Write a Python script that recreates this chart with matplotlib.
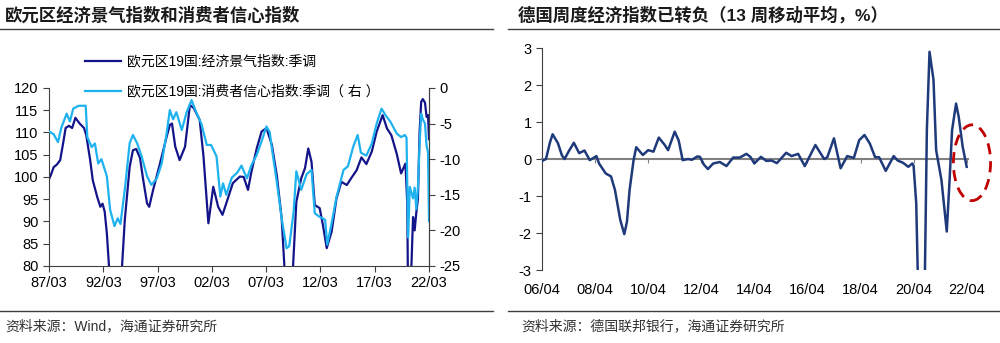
import numpy as np
import matplotlib.pyplot as plt
from matplotlib.lines import Line2D
from matplotlib.patches import Ellipse

plt.rcParams['font.family'] = ['Liberation Sans', 'Noto Sans CJK SC']
plt.rcParams['axes.unicode_minus'] = False

# ---- left panel: euro area sentiment (left axis) and consumer confidence (right axis)
esi_t = [1987.17, 1987.35, 1987.6, 1987.9, 1988.2, 1988.5, 1988.7, 1989.0, 1989.3, 1989.6,
         1990.0, 1990.4, 1990.6, 1990.95, 1991.2, 1991.6, 1991.9, 1992.1, 1992.3, 1992.5,
         1992.7, 1993.0, 1993.4, 1993.85, 1994.15, 1994.6, 1994.9, 1995.2, 1995.55, 1995.85,
         1996.2, 1996.4, 1996.75, 1997.4, 1998.0, 1998.3, 1998.5, 1998.8, 1999.2, 1999.7,
         2000.15, 2000.5, 2001.05, 2001.4, 2001.85, 2002.3, 2002.75, 2003.15, 2003.5, 2004.1,
         2004.75, 2005.1, 2005.5, 2005.8, 2006.3, 2006.75, 2007.2, 2007.7, 2008.15, 2008.6,
         2008.85, 2009.1, 2009.4, 2009.65, 2009.95, 2010.4, 2010.75, 2011.05, 2011.35, 2011.65,
         2012.1, 2012.4, 2012.75, 2013.2, 2013.65, 2014.1, 2014.6, 2015.05, 2015.5, 2015.95,
         2016.4, 2016.9, 2017.35, 2017.9, 2018.3, 2018.7, 2019.2, 2019.6, 2020.0, 2020.17,
         2020.25, 2020.4, 2020.55, 2020.7, 2020.85, 2021.0, 2021.15, 2021.3, 2021.45, 2021.6,
         2021.8, 2021.95, 2022.08, 2022.17]
esi_v = [99.5, 100.5, 102.2, 102.8, 103.8, 108, 111, 111.5, 111, 113.3,
         112, 111, 109.4, 104, 99.3, 95.6, 93.3, 94, 92.2, 87.3,
         79.8, 76, 74, 78, 90.3, 102.3, 106, 106.3, 104.3, 99.3,
         94.1, 93.3, 97, 103.1, 109, 111.7, 112, 106.8, 103.8, 106.8,
         116.2, 115.5, 112.8, 104.6, 89.6, 97.8, 93.3, 91.5, 94.1, 98.6,
         100.1, 100, 97.1, 101, 106.4, 110.2, 111, 107.2, 100.4, 90.7,
         80, 72, 73, 80, 94.4, 99.7, 102, 106.4, 103.4, 93.7,
         93, 89.2, 84, 87.7, 95.2, 98.9, 98.2, 99.9, 101.5, 104.4,
         102.9, 105.7, 110.2, 113.9, 110.9, 109.4, 105.2, 100.8, 103, 94,
         70, 67, 80, 91, 88, 92, 95, 110, 116.9, 117.5,
         116.7, 113.5, 113.9, 108.5]

cc_t = [1987.17, 1987.6, 1988.0, 1988.3, 1988.8, 1989.1, 1989.4, 1989.9, 1990.3, 1990.55,
        1990.7, 1991.1, 1991.4, 1991.7, 1992.0, 1992.5, 1992.8, 1993.2, 1993.5, 1993.75,
        1994.15, 1994.6, 1994.9, 1995.3, 1995.7, 1996.2, 1996.6, 1997.1, 1997.55, 1998.0,
        1998.3, 1998.6, 1998.9, 1999.4, 1999.85, 2000.3, 2000.7, 2001.2, 2001.7, 2002.1,
        2002.6, 2002.95, 2003.2, 2003.5, 2004.0, 2004.5, 2004.9, 2005.4, 2005.8, 2006.3,
        2006.75, 2007.2, 2007.5, 2007.7, 2008.15, 2008.6, 2009.05, 2009.3, 2009.7, 2009.95,
        2010.4, 2010.9, 2011.35, 2011.65, 2012.1, 2012.6, 2012.8, 2013.2, 2013.65, 2014.3,
        2014.7, 2015.2, 2015.6, 2015.9, 2016.4, 2016.9, 2017.35, 2017.8, 2018.2, 2018.6,
        2019.2, 2019.6, 2019.95, 2020.1, 2020.25, 2020.4, 2020.7, 2020.85, 2021.0, 2021.15,
        2021.3, 2021.45, 2021.6, 2021.8, 2021.95, 2022.08, 2022.17]
cc_v = [-6.1, -6.5, -7.6, -5.6, -3.6, -4.7, -2.9, -2.5, -2.5, -2.5,
        -6.9, -8.3, -7.8, -10.6, -10.0, -12.4, -17.1, -19.4, -18.3, -19.1,
        -14.3, -7.75, -6.6, -7.8, -9.6, -12.4, -13.6, -12.7, -10.6, -6.4,
        -3.1, -4.4, -3.4, -5.9, -3.4, -1.7, -3.3, -5.0, -8.0, -8.0,
        -9.6, -15.25, -13.4, -15.0, -12.6, -11.9, -10.9, -12.7, -10.9, -9.4,
        -7.5, -5.4, -6.2, -8.5, -13.2, -18.3, -22.5, -22.2, -17.4, -11.7,
        -14.3, -12.1, -11.5, -17.6, -18.1, -18.5, -22.0, -19.0, -15.3, -11.5,
        -11.0, -8.2, -6.6, -9.1, -9.5, -7.8, -5.0, -2.9, -3.9, -4.7,
        -6.4, -6.9, -6.6, -7.0, -21.0, -13.9, -15.5, -14.0, -17.0, -14.0,
        -8.0, -3.6, -4.4, -5.0, -8.2, -9.0, -18.7]

left_ticks = [1987.17, 1992.17, 1997.17, 2002.17, 2007.17, 2012.17, 2017.17, 2022.17]
left_labels = ["87/03", "92/03", "97/03", "02/03", "07/03", "12/03", "17/03", "22/03"]

# ---- right panel: German weekly activity index, 13-week average
wai_t = [2006.25, 2006.4, 2006.55, 2006.65, 2006.85, 2007.0, 2007.1, 2007.25, 2007.45, 2007.65,
         2007.85, 2008.05, 2008.3, 2008.4, 2008.65, 2008.85, 2009.0, 2009.2, 2009.35, 2009.45,
         2009.55, 2009.7, 2009.8, 2010.05, 2010.25, 2010.45, 2010.65, 2010.875, 2011.0, 2011.25,
         2011.4, 2011.55, 2011.75, 2011.9, 2012.1, 2012.2, 2012.35, 2012.5, 2012.7, 2012.95,
         2013.2, 2013.45, 2013.7, 2013.95, 2014.1, 2014.25, 2014.5, 2014.7, 2014.9, 2015.1,
         2015.45, 2015.65, 2015.9, 2016.15, 2016.55, 2016.88, 2017.0, 2017.25, 2017.5, 2017.75,
         2018.0, 2018.2, 2018.4, 2018.6, 2018.8, 2018.95, 2019.2, 2019.5, 2019.65, 2019.85,
         2020.05, 2020.2, 2020.25, 2020.35, 2020.45, 2020.55, 2020.65, 2020.75, 2020.85, 2021.0,
         2021.1, 2021.3, 2021.5, 2021.6, 2021.7, 2021.85, 2021.95, 2022.1, 2022.25]
wai_v = [-0.05, 0.0, 0.45, 0.67, 0.43, 0.1, 0.0, 0.2, 0.44, 0.16,
         0.23, -0.03, 0.08, -0.12, -0.39, -0.47, -0.84, -1.65, -2.03, -1.7,
         -0.84, -0.03, 0.32, 0.11, 0.24, 0.2, 0.58, 0.38, 0.24, 0.74,
         0.5, -0.03, 0.0, -0.02, 0.07, 0.06, -0.15, -0.27, -0.12, -0.08,
         -0.19, 0.04, 0.04, 0.14, 0.06, -0.12, 0.06, -0.05, -0.04, -0.11,
         0.17, 0.08, 0.14, -0.19, 0.38, 0.0, 0.05, 0.56, -0.25, 0.08,
         0.03, 0.51, 0.65, 0.42, 0.05, 0.05, -0.32, 0.08, -0.04, -0.1,
         -0.21, -0.12, -0.18, -1.2, -4.5, -6.0, -4.5, 0.78, 2.9, 2.14,
         0.24, -0.57, -1.96, -0.65, 0.78, 1.5, 1.14, 0.33, -0.21]

right_ticks = [2006.25 + 2 * k for k in range(9)]
right_labels = ["06/04", "08/04", "10/04", "12/04", "14/04", "16/04", "18/04", "20/04", "22/04"]

fig = plt.figure(figsize=(10, 3.43), dpi=100)

# titles, rules and sources
fig.text(0.005, 0.956, "欧元区经济景气指数和消费者信心指数", fontsize=12.5, fontweight='bold',
         color='#1a1a1a', va='center', ha='left')
fig.text(0.518, 0.956, "德国周度经济指数已转负（13 周移动平均，%）", fontsize=12.5, fontweight='bold',
         color='#1a1a1a', va='center', ha='left')
for x0, x1 in [(0.0, 0.493), (0.508, 1.0)]:
    fig.add_artist(Line2D([x0, x1], [0.915, 0.915], color='#404040', lw=1.0))
    fig.add_artist(Line2D([x0, x1], [0.092, 0.092], color='#404040', lw=1.0))
fig.text(0.005, 0.048, "资料来源：Wind，海通证券研究所", fontsize=10, color='#333333', va='center')
fig.text(0.521, 0.048, "资料来源：德国联邦银行，海通证券研究所", fontsize=10, color='#333333', va='center')

# left chart
ax1 = fig.add_axes([0.049, 0.2245, 0.38, 0.519])
l1, = ax1.plot(esi_t, esi_v, color='#14148A', lw=1.6)
ax1.set_ylim(80, 120)
ax1.set_yticks(range(80, 121, 5))
ax1.set_xlim(left_ticks[0], left_ticks[-1])
ax1.set_xticks(left_ticks)
ax1.set_xticklabels(left_labels)
ax2 = ax1.twinx()
l2, = ax2.plot(cc_t, cc_v, color='#1EB2EE', lw=1.6)
ax2.set_ylim(-25, 0)
ax2.set_yticks(range(-25, 1, 5))
for a in (ax1, ax2):
    a.spines['top'].set_visible(False)
    for s in a.spines.values():
        s.set_color('#404040')
        s.set_linewidth(0.8)
    a.tick_params(direction='out', length=4, width=0.8, color='#404040', labelsize=10.5)
ax2.spines['left'].set_visible(False)
ax2.spines['bottom'].set_visible(False)

ax1.legend([l1, l2], ["欧元区19国:经济景气指数:季调", "欧元区19国:消费者信心指数:季调（ 右 ）"],
           loc='upper left', bbox_to_anchor=(0.085, 0.84), bbox_transform=fig.transFigure,
           frameon=False, fontsize=10, handlelength=2.6, handletextpad=0.45,
           labelspacing=1.15, borderpad=0, borderaxespad=0)

# right chart
ax3 = fig.add_axes([0.542, 0.2128, 0.426, 0.647])
ax3.plot(wai_t, wai_v, color='#1F3A7A', lw=1.8, zorder=3)
ax3.set_ylim(-3, 3)
ax3.set_yticks(range(-3, 4))
ax3.set_xlim(2006.25, 2022.3)
ax3.spines['top'].set_visible(False)
ax3.spines['right'].set_visible(False)
ax3.spines['left'].set_color('#404040')
ax3.spines['left'].set_linewidth(0.8)
ax3.spines['bottom'].set_position(('data', 0))
ax3.spines['bottom'].set_color('#808080')
ax3.spines['bottom'].set_linewidth(1.5)
ax3.set_xticks(right_ticks)
ax3.tick_params(axis='x', direction='out', length=3, color='#808080', labelbottom=False)
ax3.tick_params(axis='y', direction='out', length=4, width=0.8, color='#404040', labelsize=10.5)
sec = ax3.secondary_xaxis('bottom')
sec.set_xticks(right_ticks)
sec.set_xticklabels(right_labels)
sec.tick_params(length=0, pad=9, labelsize=10.5)
for s in sec.spines.values():
    s.set_visible(False)

ax3.add_patch(Ellipse((2022.45, -0.1), 1.4, 2.05, fill=False, ec='#C00000',
                      ls=(0, (4, 2.5)), lw=2, clip_on=False, zorder=4))

fig.savefig("out.png", dpi=100)
